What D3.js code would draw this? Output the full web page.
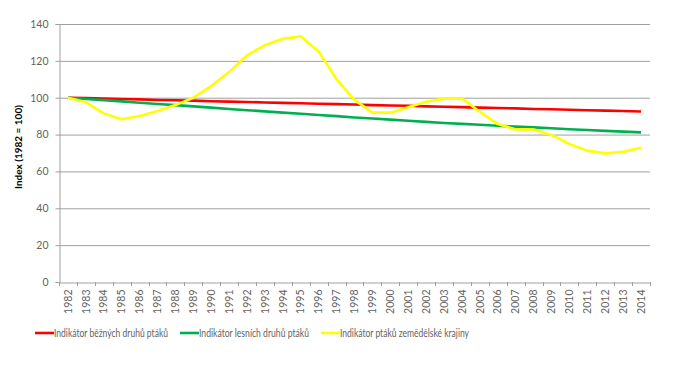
<!DOCTYPE html>
<html><head><meta charset="utf-8">
<script src="https://cdn.jsdelivr.net/npm/d3@7"></script>
<style>body{margin:0;background:#fff}svg{display:block}</style>
</head><body>
<svg id="c" width="686" height="369"></svg>
<script>
const years = ["1982","1983","1984","1985","1986","1987","1988","1989","1990","1991","1992","1993","1994","1995","1996","1997","1998","1999","2000","2001","2002","2003","2004","2005","2006","2007","2008","2009","2010","2011","2012","2013","2014"];
const common = [100,99.8,99.5,99.3,99.1,98.8,98.6,98.4,98.1,97.9,97.7,97.4,97.2,97.0,96.7,96.5,96.3,96.0,95.8,95.6,95.3,95.1,94.9,94.6,94.4,94.2,93.9,93.7,93.5,93.2,93.0,92.8,92.5];
const forest = [100,99.3,98.7,98.0,97.3,96.6,96.0,95.3,94.6,93.9,93.2,92.6,91.9,91.3,90.6,90.0,89.3,88.7,88.1,87.5,86.9,86.3,85.8,85.3,84.8,84.3,83.9,83.4,82.9,82.5,82.0,81.6,81.2];
const farmland = [100,97.5,91.5,88.3,90.1,92.8,96.0,100.0,106.3,114.0,123.0,128.6,132.0,133.3,125.0,110.0,98.8,91.9,91.9,94.8,97.8,99.5,99.5,92.4,85.7,82.8,82.8,79.8,74.9,71.3,69.8,70.7,72.9];
const seriesNames = ["Indikátor běžných druhů ptáků","Indikátor lesních druhů ptáků","Indikátor ptáků zemědělské krajiny"];
const seriesColors = ["#ff0000","#00b050","#ffff00"];
const yTicks = [0,20,40,60,80,100,120,140];
const yTitle = "Index (1982 = 100)";

const svg = d3.select("#c");
const L = 59, R = 650, T = 24, B = 282;
const x = d3.scaleBand().domain(years).range([L, R]);
const y = d3.scaleLinear().domain([0, 140]).range([B, T]);
const font = "Lato, 'Open Sans', sans-serif";
const grey = "#636363";

// gridlines
svg.append("g").selectAll("line").data(yTicks.filter(d => d > 0)).join("line")
  .attr("x1", L).attr("x2", R).attr("y1", d => y(d) + 0.5).attr("y2", d => y(d) + 0.5)
  .attr("stroke", "#a0a0a0").attr("stroke-width", 1);

// y axis
const yAxis = svg.append("g").attr("transform", `translate(${L + 0.5},0)`)
  .call(d3.axisLeft(y).tickValues(yTicks).tickSize(4).tickPadding(7));
yAxis.select(".domain").attr("stroke", "#a0a0a0");
yAxis.selectAll(".tick line").attr("stroke", "#a0a0a0");
yAxis.selectAll(".tick text").attr("fill", grey).style("font-family", font).style("font-size", "10.5px");
yAxis.selectAll(".tick").attr("transform", d => `translate(0,${y(d) + 0.5})`);

// x axis
const xAxis = svg.append("g").attr("transform", `translate(0,${B + 0.5})`)
  .call(d3.axisBottom(x).tickSize(0).tickPadding(0));
xAxis.select(".domain").attr("stroke", "#a0a0a0");
xAxis.selectAll(".tick text").attr("fill", grey).style("font-family", font).style("font-size", "10.5px")
  .attr("text-anchor", "end").attr("transform", "rotate(-90)").attr("x", -7).attr("y", 0).attr("dy", "0.35em");
// boundary tick marks
const bounds = years.map(d => x(d)).concat([R]);
svg.append("g").selectAll("line").data(bounds).join("line")
  .attr("x1", d => Math.round(d) + 0.5).attr("x2", d => Math.round(d) + 0.5)
  .attr("y1", B).attr("y2", B + 4).attr("stroke", "#a0a0a0");

// y title
svg.append("text").attr("transform", `translate(22,${(T + B) / 2 - 6}) rotate(-90)`)
  .attr("text-anchor", "middle").style("font-family", font).style("font-size", "10px").style("font-weight", "bold")
  .attr("fill", "#000").text(yTitle);

// lines
const line = d3.line().x((d, i) => x(years[i]) + x.bandwidth() / 2).y(d => y(d));
[common, forest, farmland].forEach((s, i) => {
  svg.append("path").datum(s).attr("d", line).attr("fill", "none")
    .attr("stroke", seriesColors[i]).attr("stroke-width", 2.6).attr("stroke-linejoin", "round");
});

// legend
const legX = [35, 180, 321];
const legW = [114, 110, 129];
const lg = svg.append("g");
seriesNames.forEach((n, i) => {
  lg.append("line").attr("x1", legX[i]).attr("x2", legX[i] + 19).attr("y1", 333).attr("y2", 333)
    .attr("stroke", seriesColors[i]).attr("stroke-width", 2.6);
  lg.append("text").attr("x", legX[i] + 19).attr("y", 333).attr("dy", "0.35em")
    .attr("textLength", legW[i]).attr("lengthAdjust", "spacingAndGlyphs")
    .style("font-family", font).style("font-size", "10.5px").attr("fill", grey).text(n);
});
</script>
</body></html>
